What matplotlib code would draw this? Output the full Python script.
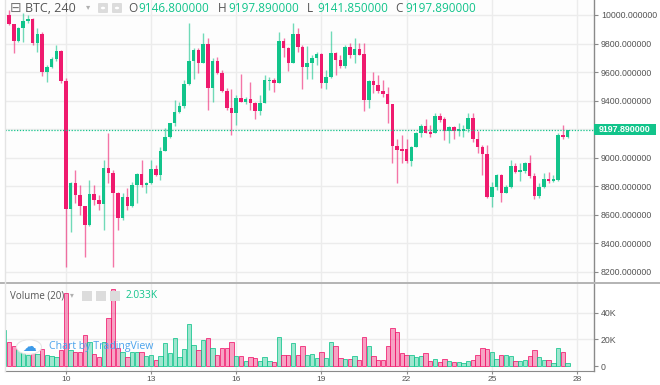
import matplotlib
matplotlib.use("Agg")
import matplotlib.pyplot as plt
from matplotlib.patches import Rectangle, Circle, FancyBboxPatch
import numpy as np

# ---------------- data (4h candles, start 7th 20:00) ----------------
start_day = 7 + 20 / 24
opens = [9880, 10000, 9937, 9820, 9911, 9958, 9970, 9801, 9867, 9601, 9638, 9689, 9748,
         9540, 8639, 8825, 8739, 8662, 8529, 8744, 8704, 8674, 8930, 8896, 8751,
         8576, 8727, 8662, 8809, 8886, 8809, 8825, 8919, 8879, 9047, 9148, 9241,
         9323, 9362, 9514, 9680, 9755, 9661, 9797, 9486, 9678, 9596, 9470, 9346,
         9311, 9416, 9393, 9409, 9381, 9330, 9386, 9540, 9547, 9526, 9820, 9766,
         9666, 9865, 9778, 9633, 9661, 9696, 9724, 9526, 9563, 9736, 9685, 9643,
         9778, 9720, 9760, 9724, 9405, 9540, 9507, 9468, 9446, 9377, 9085, 9061,
         9059, 8977, 9078, 9171, 9222, 9180, 9171, 9292, 9269, 9190, 9213, 9190,
         9190, 9199, 9276, 9129, 9073, 9026, 8723, 8793, 8879, 8755, 8793, 8942,
         8902, 8910, 8961, 8872, 8732, 8797, 8851, 8839, 8845, 9159, 9146.8]
highs = [10010, 10035, 9940, 9918, 10012, 10000, 9977, 9907, 9883, 9650, 9708, 9790, 9755,
         9556, 8832, 8914, 8809, 8665, 8844, 8809, 8739, 8984, 9171, 8914, 8762,
         8751, 8786, 8832, 8891, 8984, 8832, 8984, 8949, 9078, 9206, 9246, 9405,
         9393, 9545, 9942, 9766, 9766, 9872, 9836, 9696, 9708, 9615, 9486, 9479,
         9440, 9587, 9425, 9533, 9393, 9440, 9580, 9563, 9556, 9883, 9836, 9778,
         9942, 9907, 9790, 9783, 9720, 9743, 9731, 9615, 9890, 9743, 9720, 9790,
         9801, 9836, 9801, 9801, 9545, 9603, 9580, 9545, 9493, 9380, 9129, 9159,
         9129, 9080, 9183, 9236, 9269, 9229, 9311, 9311, 9283, 9222, 9222, 9246,
         9232, 9311, 9311, 9190, 9089, 9089, 8832, 8886, 8886, 8809, 8984, 8961,
         8966, 8972, 9019, 8891, 8825, 8891, 8902, 8879, 9176, 9229, 9197.89]
lows = [9872, 9930, 9731, 9813, 9813, 9942, 9790, 9743, 9573, 9533, 9626, 9680, 9526,
        8237, 8482, 8681, 8599, 8307, 8525, 8669, 8634, 8494, 8825, 8237, 8494,
        8564, 8634, 8657, 8681, 8797, 8755, 8816, 8872, 8844, 9045, 9137, 9222,
        9311, 9346, 9509, 9549, 9591, 9661, 9334, 9393, 9587, 9463, 9334, 9159,
        9229, 9390, 9380, 9334, 9269, 9299, 9381, 9475, 9463, 9521, 9703, 9610,
        9661, 9743, 9479, 9552, 9552, 9650, 9486, 9479, 9558, 9580, 9626, 9626,
        9696, 9666, 9718, 9330, 9346, 9456, 9451, 9428, 9241, 8966, 8821, 8961,
        8966, 8942, 9075, 9148, 9171, 9143, 9171, 9253, 9124, 9106, 9129, 9152,
        9148, 9183, 9113, 9031, 8879, 8718, 8653, 8774, 8692, 8751, 8786, 8891,
        8839, 8891, 8856, 8709, 8716, 8786, 8821, 8832, 8839, 9129, 9141.85]
closes = [9995, 9937, 9820, 9911, 9958, 9970, 9801, 9867, 9601, 9638, 9689, 9748, 9540,
          8639, 8825, 8739, 8662, 8529, 8744, 8704, 8674, 8930, 8896, 8751, 8576,
          8727, 8662, 8809, 8886, 8809, 8825, 8919, 8879, 9047, 9148, 9241, 9323,
          9362, 9514, 9680, 9755, 9661, 9797, 9486, 9678, 9596, 9470, 9346, 9311,
          9416, 9393, 9409, 9381, 9330, 9386, 9545, 9547, 9526, 9820, 9766, 9666,
          9865, 9778, 9633, 9661, 9696, 9724, 9526, 9563, 9736, 9685, 9643, 9778,
          9720, 9760, 9720, 9405, 9540, 9507, 9468, 9446, 9377, 9085, 9054, 9050,
          8977, 9078, 9171, 9222, 9176, 9166, 9292, 9264, 9190, 9213, 9190, 9199,
          9199, 9276, 9129, 9073, 9026, 8723, 8793, 8879, 8755, 8793, 8942, 8902,
          8914, 8961, 8872, 8732, 8797, 8851, 8839, 8851, 9159, 9148, 9197.89]
volumes = [27000, 18250, 15000, 12000, 10000, 8000, 12000, 9000, 12750, 8250, 7500, 6500, 12000,
           54500, 12000, 10750, 10750, 23250, 18000, 9000, 7000, 18250, 35750, 57500, 13250,
           10750, 7000, 10750, 10750, 10750, 7500, 8250, 4500, 7500, 17000, 10000, 21250,
           7000, 12500, 31500, 15750, 12000, 19500, 21250, 13250, 8250, 13250, 13250, 18250,
           7500, 7500, 3750, 7000, 5750, 3750, 7000, 3750, 3000, 22000, 8250, 8250,
           17500, 8250, 15000, 8250, 9000, 5750, 10750, 5750, 18250, 15000, 5750, 5000,
           5000, 7500, 4500, 21500, 15000, 7500, 4500, 4500, 15000, 28250, 25250, 9500,
           8250, 8250, 7000, 7500, 9500, 4000, 5000, 3250, 5000, 3750, 3000, 3000,
           2000, 3750, 4500, 8250, 13250, 12500, 10500, 5000, 8000, 8000, 7500, 3750,
           4000, 4500, 7500, 12000, 7000, 4500, 4500, 2000, 13250, 10750, 2033]
price_ticks = [8200, 8400, 8600, 8800, 9000, 9400, 9600, 9800, 10000]
grid_prices = [8200, 8400, 8600, 8800, 9000, 9200, 9400, 9600, 9800, 10000]
vol_ticks = [0, 20000, 40000]
vol_labels = ["0", "20K", "40K"]
day_ticks = [10, 13, 16, 19, 22, 25, 28]
header = {"symbol": "BTC, 240", "O": "9146.800000", "H": "9197.890000",
          "L": "9141.850000", "C": "9197.890000", "vol": "2.033K"}
last_price = closes[-1]

# ---------------- style ----------------
UP = "#12c48b"
DOWN = "#ef1a6e"
GRID = "#ececec"
AXC = "#8a8a8a"
TXT = "#555555"
W, H = 660, 385

fig = plt.figure(figsize=(W / 100, H / 100), dpi=100)
fig.patch.set_facecolor("white")

def fx(x):
    return x / W

def fy(y):
    return 1 - y / H

ax = fig.add_axes([fx(5), fy(282), fx(589), 282 / H])
axv = fig.add_axes([fx(5), fy(371), fx(589), 87 / H], sharex=ax)

t = np.array([start_day + i / 6 for i in range(len(opens))])
o = np.array(opens, float); c = np.array(closes, float)
hi = np.array(highs, float); lo = np.array(lows, float)
up = c >= o
cols = np.where(up, UP, DOWN)

for a in (ax, axv):
    a.set_facecolor("#fdfdfd")
    a.grid(True, axis="x", color=GRID, lw=1, zorder=0)
    a.set_axisbelow(True)
    for s in ("left", "top"):
        a.spines[s].set_visible(False)
    a.spines["right"].set_color(AXC)
    a.spines["right"].set_linewidth(1)

for gp in grid_prices:
    ax.axhline(gp, color=GRID, lw=1, zorder=0)
for gv in vol_ticks[1:]:
    axv.axhline(gv, color=GRID, lw=1, zorder=0)

# candles
ax.vlines(t, lo, hi, colors=cols, lw=1, alpha=0.6, zorder=2)
body = np.maximum(np.abs(c - o), 8)
ax.bar(t, body, bottom=np.minimum(o, c), width=0.125, color=cols, lw=0, zorder=3)

ax.set_xlim(7.858, 28.598)
ax.set_ylim(8129.7, 10105)
ax.yaxis.tick_right()
ax.set_yticks(price_ticks)
ax.set_yticklabels([f"{p:.6f}" for p in price_ticks])
ax.tick_params(axis="y", length=3, width=0.8, color=AXC, labelsize=6.3,
               labelcolor=TXT, pad=2)
ax.tick_params(axis="x", length=0, labelbottom=False)
ax.spines["bottom"].set_visible(False)
for lab in ax.get_yticklabels():
    lab.set_family("Liberation Sans")

# last price line
ax.axhline(last_price, color=UP, lw=0.9, ls=(0, (1, 1.3)), zorder=4)

# volume
vfc = [(0.07, 0.77, 0.55, 0.4) if u else (0.94, 0.10, 0.43, 0.4) for u in up]
vec = [(0.07, 0.77, 0.55, 0.8) if u else (0.94, 0.10, 0.43, 0.8) for u in up]
axv.bar(t, volumes, width=1 / 6 * 0.92, color=vfc, edgecolor=vec, lw=0.7, zorder=2)
axv.set_ylim(-3745, 61423)
axv.yaxis.tick_right()
axv.set_yticks(vol_ticks)
axv.set_yticklabels(vol_labels)
axv.set_xticks(day_ticks)
axv.set_xticklabels([str(d) for d in day_ticks])
axv.tick_params(axis="y", length=3, width=0.8, color=AXC, labelsize=6.3,
                labelcolor=TXT, pad=2)
axv.tick_params(axis="x", length=2.5, width=0.8, color=AXC, labelsize=6.0,
                labelcolor=TXT, pad=1.0)
axv.spines["bottom"].set_color(AXC)
for lab in axv.get_yticklabels() + axv.get_xticklabels():
    lab.set_family("Liberation Sans")

# pane separator
fig.add_artist(Rectangle((0, fy(284)), 1, 2 / H, transform=fig.transFigure,
                         color="#b5b5b5", lw=0))
# left faint edge
fig.add_artist(plt.Line2D([fx(5), fx(5)], [fy(371), 1], transform=fig.transFigure,
                          color="#e4e4e4", lw=1))

# price label box
ybox = fy(130)
fig.add_artist(Rectangle((fx(594), ybox - 5.5 / H), 62 / W, 11 / H,
                         transform=fig.transFigure, color=UP, lw=0, zorder=5))
fig.text(fx(625), ybox, f"{last_price:.6f}", color="white", fontsize=6.4,
         fontweight="bold", family="Liberation Sans", ha="center", va="center", zorder=6)

# header legend
HF = ["Open Sans", "DejaVu Sans"]
fig.text(fx(10), fy(8), "\u229f", color="#777777", fontsize=10, family=["DejaVu Sans"],
         ha="left", va="center")
fig.text(fx(25), fy(8), header["symbol"], color=TXT, fontsize=9, family=HF,
         ha="left", va="center")
fig.text(fx(86), fy(7), "\u25be", color="#b0b0b0", fontsize=6, family=["DejaVu Sans"],
         ha="left", va="center")
for x0 in (98, 112):
    fig.add_artist(FancyBboxPatch((fx(x0), fy(13)), 10 / W, 10 / H,
                                  boxstyle="round,pad=0,rounding_size=0.002",
                                  transform=fig.transFigure, color="#dcdcdc", lw=0))
    fig.add_artist(Circle((fx(x0 + 5), fy(8)), 2.2 / W, transform=fig.transFigure,
                          color="white", lw=0))
xs = [128, 218, 307, 395]
for key, x0 in zip(["O", "H", "L", "C"], xs):
    fig.text(fx(x0), fy(8), key, color=TXT, fontsize=8.5, family=HF,
             ha="left", va="center")
    fig.text(fx(x0 + 10), fy(8), header[key], color=UP, fontsize=8.5, family=HF,
             ha="left", va="center")

# volume legend
fig.text(fx(10), fy(296), "Volume (20)", color=TXT, fontsize=7.0, family=HF,
         ha="left", va="center")
fig.text(fx(70), fy(295), "\u25be", color="#b0b0b0", fontsize=5.5, family=["DejaVu Sans"],
         ha="left", va="center")
for x0 in (82, 96, 110):
    fig.add_artist(Rectangle((fx(x0), fy(301)), 10 / W, 10 / H,
                             transform=fig.transFigure, color="#dcdcdc", lw=0))
fig.text(fx(126), fy(296), header["vol"], color=UP, fontsize=7.3, family=HF,
         ha="left", va="center")

# watermark
fig.add_artist(Circle((fx(29), fy(347)), 12.5 / W, transform=fig.transFigure,
                      facecolor="white", edgecolor="#e6e6e6", lw=0.8, zorder=7))
fig.text(fx(29), fy(347), "\u2601", color="#3d9be9", fontsize=10,
         family=["DejaVu Sans"], ha="center", va="center", zorder=8)
fig.text(fx(49), fy(347), "Chart by TradingView", color="#4aa3ec", fontsize=7.6,
         family=HF, ha="left", va="center", zorder=8)

fig.savefig("out.png", dpi=100, facecolor="white")
